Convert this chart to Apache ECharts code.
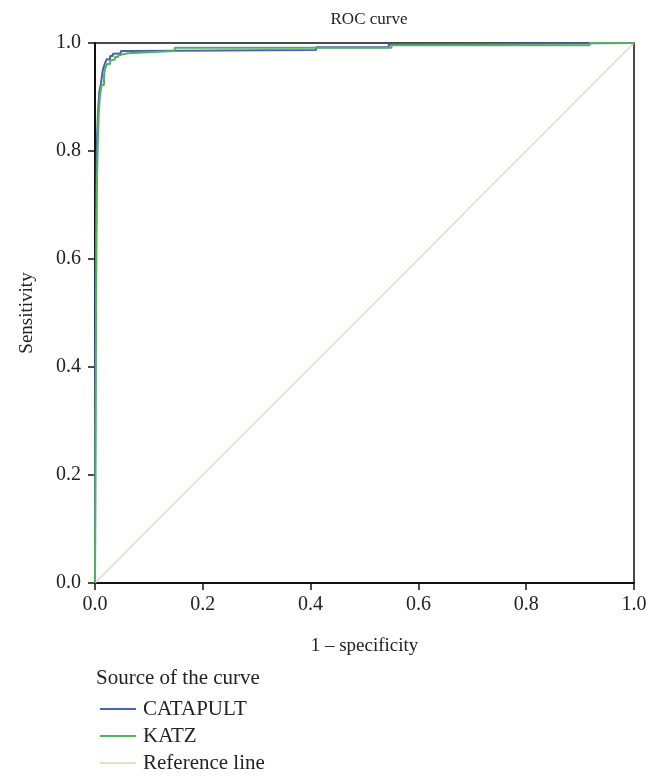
<!DOCTYPE html>
<html>
<head>
<meta charset="utf-8">
<script src="https://cdn.jsdelivr.net/npm/echarts@6/dist/echarts.min.js"></script>
<style>html,body{margin:0;padding:0;background:#fff;}#c{width:662px;height:780px;}</style>
</head>
<body>
<div id="c"></div>
<script>
// ROC data (1 - specificity, sensitivity)
var catapultX = [0, 0.001, 0.003, 0.004, 0.006, 0.008, 0.011, 0.013, 0.015, 0.0186, 0.022, 0.028, 0.033, 0.039, 0.048, 0.061, 0.41, 0.545, 0.56, 1.0];
var catapultY = [0, 0.55, 0.78, 0.83, 0.88, 0.91, 0.925, 0.94, 0.952, 0.963, 0.970, 0.976, 0.980, 0.981, 0.985, 0.987, 0.992, 0.997, 1.0, 1.0];
var katzX = [0, 0.002, 0.0037, 0.005, 0.007, 0.009, 0.012, 0.0167, 0.0186, 0.022, 0.028, 0.0315, 0.037, 0.043, 0.048, 0.061, 0.098, 0.148, 0.55, 0.918, 1.0];
var katzY = [0, 0.524, 0.746, 0.807, 0.870, 0.90, 0.922, 0.939, 0.952, 0.961, 0.967, 0.970, 0.974, 0.978, 0.981, 0.983, 0.985, 0.991, 0.996, 1.0, 1.0];
var refX = [0, 1];
var refY = [0, 1];
var tickLabels = ['0.0', '0.2', '0.4', '0.6', '0.8', '1.0'];
var seriesNames = ['CATAPULT', 'KATZ', 'Reference line'];

function zip(a, b) { return a.map(function (v, i) { return [v, b[i]]; }); }

var FONT = '"Liberation Serif", "DejaVu Serif", serif';
var chart = echarts.init(document.getElementById('c'), null, { renderer: 'canvas' });
chart.setOption({
  animation: false,
  backgroundColor: '#ffffff',
  title: [
    { text: 'ROC curve', left: 364, top: 6, textAlign: 'center',
      textStyle: { fontFamily: FONT, fontSize: 17, fontWeight: 'normal', color: '#222' } },
    { text: 'Source of the curve', left: 91, top: 663,
      textStyle: { fontFamily: FONT, fontSize: 21, fontWeight: 'normal', color: '#222' } }
  ],
  legend: {
    orient: 'vertical', left: 95, top: 693, itemGap: 5,
    itemWidth: 36, itemHeight: 2, icon: 'rect',
    data: seriesNames,
    textStyle: { fontFamily: FONT, fontSize: 21, color: '#222', lineHeight: 22, padding: [0, 0, 0, 2] }
  },
  grid: { left: 95, right: 28, top: 43, bottom: 197, show: true, borderColor: '#111', borderWidth: 1.5 },
  xAxis: {
    type: 'value', min: 0, max: 1, interval: 0.2,
    name: '1 – specificity', nameLocation: 'middle', nameGap: 54,
    nameTextStyle: { fontFamily: FONT, fontSize: 19, color: '#222' },
    axisLine: { onZero: false, lineStyle: { color: '#111', width: 2 } },
    axisTick: { show: true, length: 7, lineStyle: { color: '#111', width: 1.5 } },
    axisLabel: { fontFamily: FONT, fontSize: 20, color: '#222', margin: 12,
      formatter: function (v) { return tickLabels[Math.round(v * 5)]; } },
    splitLine: { show: false }
  },
  yAxis: {
    type: 'value', min: 0, max: 1, interval: 0.2,
    name: 'Sensitivity', nameLocation: 'middle', nameGap: 58,
    nameTextStyle: { fontFamily: FONT, fontSize: 19, color: '#222' },
    axisLine: { onZero: false, lineStyle: { color: '#111', width: 2 } },
    axisTick: { show: true, length: 7, lineStyle: { color: '#111', width: 1.5 } },
    axisLabel: { fontFamily: FONT, fontSize: 20, color: '#222', margin: 14,
      formatter: function (v) { return tickLabels[Math.round(v * 5)]; } },
    splitLine: { show: false }
  },
  series: [
    { name: 'Reference line', type: 'line', data: zip(refX, refY), showSymbol: false,
      lineStyle: { color: '#e2dec0', width: 1.5 }, itemStyle: { color: '#e2dec0' }, z: 1 },
    { name: 'CATAPULT', type: 'line', data: zip(catapultX, catapultY), showSymbol: false, step: 'end',
      lineStyle: { color: '#4a62b4', width: 2 }, itemStyle: { color: '#4a62b4' }, z: 2 },
    { name: 'KATZ', type: 'line', data: zip(katzX, katzY), showSymbol: false, step: 'end',
      lineStyle: { color: '#55b060', width: 2 }, itemStyle: { color: '#55b060' }, z: 3 }
  ]
});
</script>
</body>
</html>
